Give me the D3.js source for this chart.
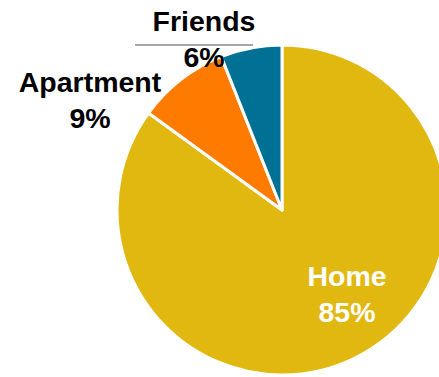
<!DOCTYPE html>
<html>
<head>
<meta charset="utf-8">
<script src="https://cdn.jsdelivr.net/npm/d3@7"></script>
<style>
  html, body { margin: 0; padding: 0; background: #fff; }
  svg text { font-family: "Liberation Sans", Arial, sans-serif; font-weight: bold; }
</style>
</head>
<body>
<svg id="chart" width="439" height="377"></svg>
<script>
// Where people live: share of respondents by housing type
const categories = ["Home", "Apartment", "Friends"];
const values = [85, 9, 6];
const colors = ["#E1B810", "#FF7B00", "#007095"];

const svg = d3.select("#chart");
const cx = 282, cy = 210, radius = 165;

const pie = d3.pie().sort(null).value(d => d.value);
const arcs = pie(categories.map((c, i) => ({ name: c, value: values[i], color: colors[i] })));
const arc = d3.arc().innerRadius(0).outerRadius(radius);

const g = svg.append("g").attr("transform", `translate(${cx},${cy})`);

g.selectAll("path")
  .data(arcs)
  .join("path")
  .attr("d", arc)
  .attr("fill", d => d.data.color)
  .attr("stroke", "#fff")
  .attr("stroke-width", 3)
  .attr("stroke-linejoin", "round");

// Label placements relative to the pie centre
const labelPos = {
  Home: { x: 65, y: 76, fill: "#fff" },
  Apartment: { x: -192, y: -118, fill: "#000" },
  Friends: { x: -78, y: -179, fill: "#000" }
};

// Leader line for the small Friends slice, level with the top of the pie
const friends = arcs[2];
const edgeAngle = (friends.startAngle + friends.endAngle) / 2;
g.append("line")
  .attr("x1", -147).attr("x2", radius * Math.sin(edgeAngle) + 2)
  .attr("y1", -radius).attr("y2", -radius)
  .attr("stroke", "#a6a6a6")
  .attr("stroke-width", 2);

arcs.forEach(d => {
  const p = labelPos[d.data.name];
  const t = g.append("text")
    .attr("text-anchor", "middle")
    .attr("fill", p.fill)
    .attr("font-size", 28.5);
  t.append("tspan").attr("x", p.x).attr("y", p.y).text(d.data.name);
  t.append("tspan").attr("x", p.x).attr("y", p.y + 36).text(d.data.value + "%");
});
</script>
</body>
</html>
